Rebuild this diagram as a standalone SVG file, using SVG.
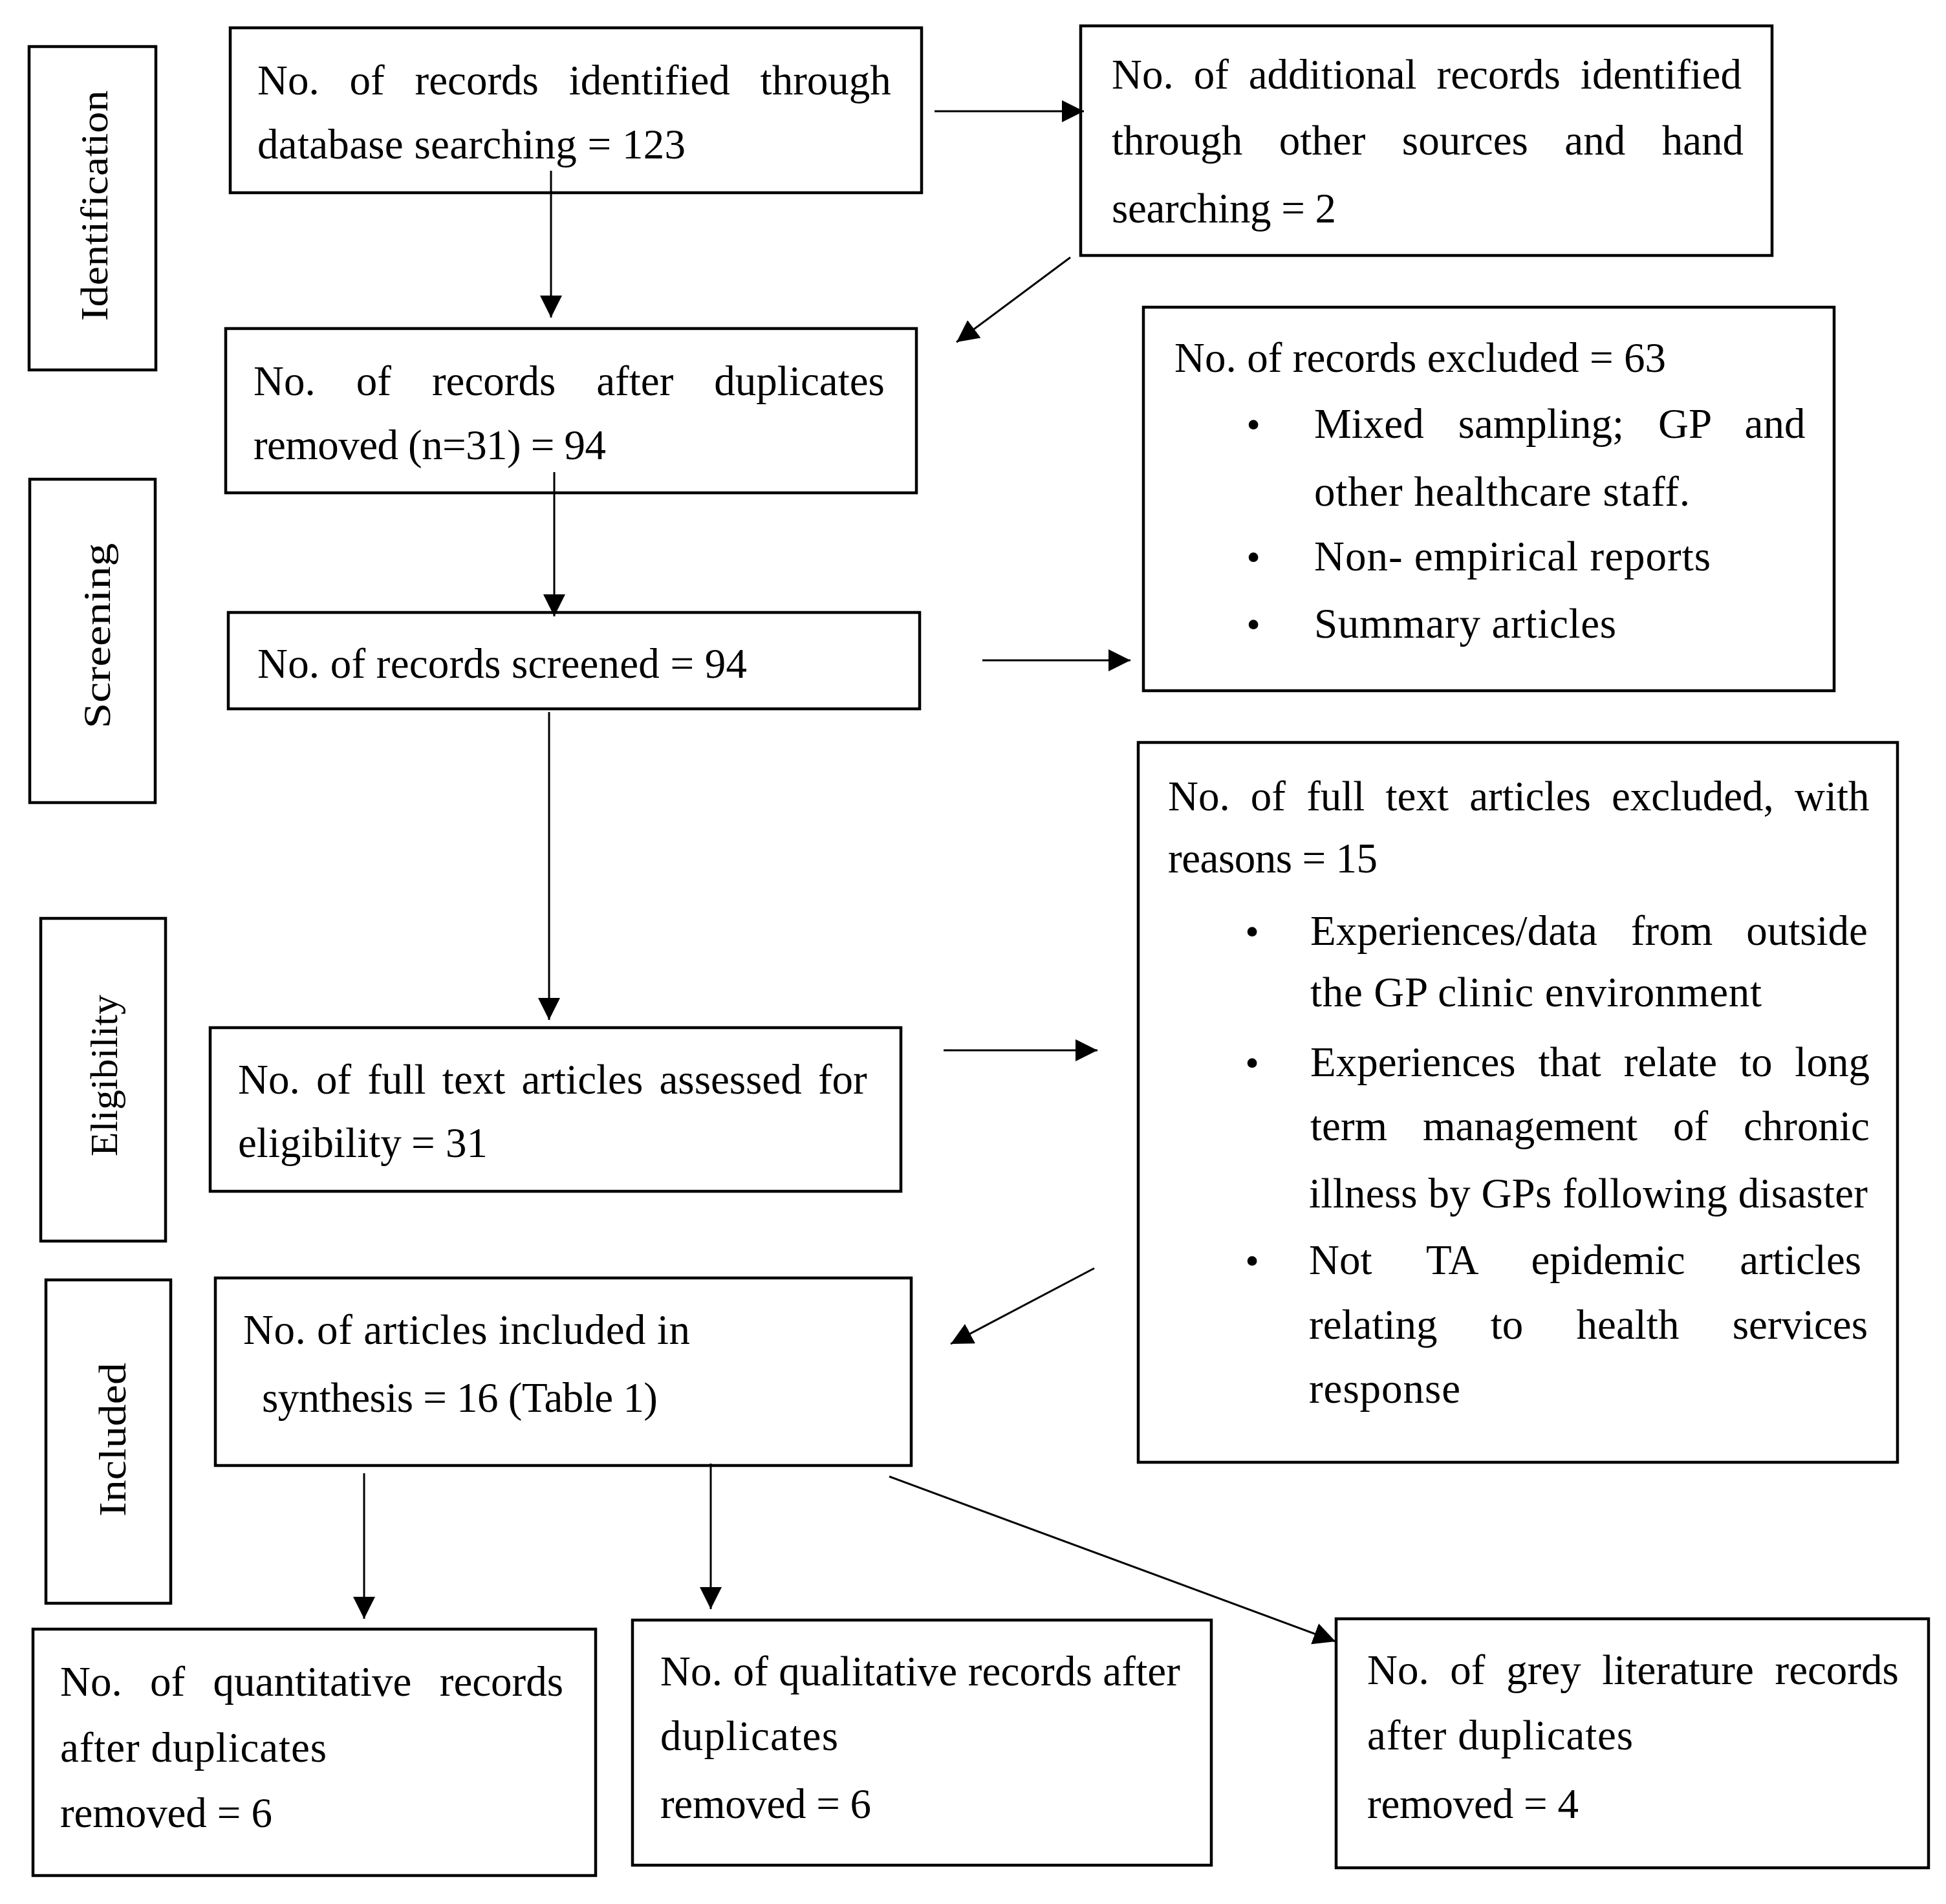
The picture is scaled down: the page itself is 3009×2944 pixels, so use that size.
<svg xmlns="http://www.w3.org/2000/svg" width="3009" height="2944" viewBox="0 0 3009 2944">
<style>
.box{fill:#fff;stroke:#000;stroke-width:4.5}
.t{font-family:"Liberation Serif","Times New Roman",serif;font-size:65px;fill:#000}
.lbl{font-family:"Liberation Serif","Times New Roman",serif;font-size:60px;fill:#000;text-anchor:middle}
.bul{font-family:"Liberation Serif","Times New Roman",serif;font-size:62px;fill:#000;text-anchor:middle}
.c{fill:none;stroke:#000;stroke-width:3;marker-end:url(#ah)}
</style>
<defs>
<marker id="ah" markerUnits="userSpaceOnUse" markerWidth="36" markerHeight="36" refX="34" refY="17" orient="auto">
<path d="M0,0 L34,17 L0,34 z" fill="#000"/>
</marker>
</defs>
<rect width="3009" height="2944" fill="#fff"/>

<g id="label-identification">
<rect class="box" x="45" y="72" width="196" height="500"/>
<text class="lbl" transform="translate(166,318) rotate(-90)" textLength="357" lengthAdjust="spacingAndGlyphs">Identification</text>
</g>
<g id="label-screening">
<rect class="box" x="46" y="741" width="194" height="500"/>
<text class="lbl" transform="translate(170,983) rotate(-90)" textLength="287" lengthAdjust="spacingAndGlyphs">Screening</text>
</g>
<g id="label-eligibility">
<rect class="box" x="63" y="1420" width="193" height="499"/>
<text class="lbl" transform="translate(181,1663) rotate(-90)" textLength="250" lengthAdjust="spacingAndGlyphs">Eligibility</text>
</g>
<g id="label-included">
<rect class="box" x="71" y="1979" width="193" height="500"/>
<text class="lbl" transform="translate(194,2226) rotate(-90)" textLength="238" lengthAdjust="spacingAndGlyphs">Included</text>
</g>

<g id="node-database">
<rect class="box" x="356" y="43" width="1069" height="255"/>
<text class="t" x="398" y="146" word-spacing="30.6">No. of records identified through</text>
<text class="t" x="398" y="245" textLength="662">database searching = 123</text>
</g>

<g id="node-additional">
<rect class="box" x="1671" y="40" width="1069" height="355"/>
<text class="t" x="1719" y="137" word-spacing="14.7">No. of additional records identified</text>
<text class="t" x="1719" y="239" word-spacing="40.3">through other sources and hand</text>
<text class="t" x="1719" y="344" textLength="347">searching = 2</text>
</g>

<g id="node-after-duplicates">
<rect class="box" x="349" y="508" width="1068" height="254"/>
<text class="t" x="392" y="611" word-spacing="46.8">No. of records after duplicates</text>
<text class="t" x="392" y="710" textLength="545">removed (n=31) = 94</text>
</g>

<g id="node-excluded">
<rect class="box" x="1768" y="475" width="1068" height="593"/>
<text class="t" x="1816" y="575" textLength="760">No. of records excluded = 63</text>
<text class="bul" x="1938" y="677">•</text>
<text class="t" x="2032" y="677" word-spacing="36.7">Mixed sampling; GP and</text>
<text class="t" x="2032" y="782" textLength="581">other healthcare staff.</text>
<text class="bul" x="1938" y="882">•</text>
<text class="t" x="2032" y="882" textLength="613">Non- empirical reports</text>
<text class="bul" x="1938" y="986">•</text>
<text class="t" x="2032" y="986" textLength="467">Summary articles</text>
</g>

<g id="node-screened">
<rect class="box" x="353" y="947" width="1069" height="149"/>
<text class="t" x="398" y="1048" textLength="757">No. of records screened = 94</text>
</g>

<g id="node-fulltext-excluded">
<rect class="box" x="1760" y="1148" width="1174" height="1113"/>
<text class="t" x="1806" y="1253" word-spacing="15.9">No. of full text articles excluded, with</text>
<text class="t" x="1806" y="1349" textLength="324">reasons = 15</text>
<text class="bul" x="1936" y="1461">•</text>
<text class="t" x="2026" y="1461" word-spacing="35.7">Experiences/data from outside</text>
<text class="t" x="2026" y="1556" textLength="698">the GP clinic environment</text>
<text class="bul" x="1936" y="1664">•</text>
<text class="t" x="2026" y="1664" word-spacing="18.6">Experiences that relate to long</text>
<text class="t" x="2026" y="1763" word-spacing="38.6">term management of chronic</text>
<text class="t" x="2024" y="1867" textLength="864">illness by GPs following disaster</text>
<text class="bul" x="1936" y="1970">•</text>
<text class="t" x="2024" y="1970" word-spacing="68.4">Not TA epidemic articles</text>
<text class="t" x="2024" y="2070" word-spacing="66">relating to health services</text>
<text class="t" x="2024" y="2169" textLength="234">response</text>
</g>

<g id="node-assessed">
<rect class="box" x="325" y="1589" width="1068" height="253"/>
<text class="t" x="368" y="1691" word-spacing="9">No. of full text articles assessed for</text>
<text class="t" y="1789"><tspan x="368">eligibility</tspan> <tspan x="636">= 31</tspan></text>
</g>

<g id="node-included">
<rect class="box" x="333" y="1976" width="1076" height="290"/>
<text class="t" x="376" y="2078" textLength="691">No. of articles included in</text>
<text class="t" x="405" y="2183" textLength="612">synthesis = 16 (Table 1)</text>
</g>

<g id="node-quantitative">
<rect class="box" x="51" y="2519" width="870" height="381"/>
<text class="t" x="93" y="2622" word-spacing="27.1">No. of quantitative records</text>
<text class="t" x="93" y="2724" textLength="412">after duplicates</text>
<text class="t" x="93" y="2825" textLength="328">removed = 6</text>
</g>

<g id="node-qualitative">
<rect class="box" x="978" y="2505" width="895" height="379"/>
<text class="t" x="1021" y="2606" textLength="804">No. of qualitative records after</text>
<text class="t" x="1021" y="2706" textLength="275">duplicates</text>
<text class="t" x="1021" y="2811" textLength="326">removed = 6</text>
</g>

<g id="node-grey">
<rect class="box" x="2066" y="2503" width="916" height="385"/>
<text class="t" x="2114" y="2604" word-spacing="16.4">No. of grey literature records</text>
<text class="t" x="2114" y="2705" textLength="411">after duplicates</text>
<text class="t" x="2114" y="2811" textLength="327">removed = 4</text>
</g>

<g id="connectors">
<line class="c" x1="852" y1="264" x2="852" y2="491"/>
<line class="c" x1="1445" y1="172" x2="1676" y2="172"/>
<line class="c" x1="1655" y1="398" x2="1479" y2="529"/>
<line class="c" x1="857" y1="730" x2="857" y2="953"/>
<line class="c" x1="1519" y1="1021" x2="1748" y2="1021"/>
<line class="c" x1="849" y1="1101" x2="849" y2="1577"/>
<line class="c" x1="1459" y1="1624" x2="1697" y2="1624"/>
<line class="c" x1="1692" y1="1961" x2="1470" y2="2078"/>
<line class="c" x1="563" y1="2278" x2="563" y2="2503"/>
<line class="c" x1="1099" y1="2263" x2="1099" y2="2488"/>
<line class="c" x1="1375" y1="2283" x2="2065" y2="2538"/>
</g>
</svg>
